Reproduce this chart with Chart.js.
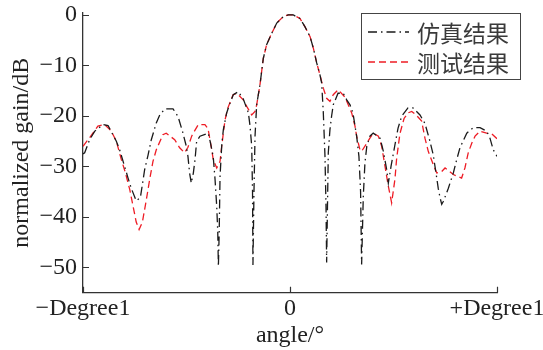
<!DOCTYPE html>
<html>
<head>
<meta charset="utf-8">
<script src="https://cdn.jsdelivr.net/npm/chart.js@4.4.1/dist/chart.umd.min.js"></script>
<style>
  html, body { margin: 0; padding: 0; background: #fff; }
  #wrap { width: 543px; height: 350px; position: relative; }
</style>
</head>
<body>
<div id="wrap"><canvas id="c"></canvas></div>
<script>
// angle as a fraction of Degree1, gain in dB
const angleSim = [
  -1.000, -0.992, -0.968, -0.943, -0.903, -0.879, -0.839, -0.823, -0.799, -0.783,
  -0.767, -0.743, -0.723, -0.702, -0.686, -0.670, -0.646, -0.629, -0.605, -0.565,
  -0.541, -0.517, -0.501, -0.493, -0.485, -0.477, -0.467, -0.459, -0.451, -0.435,
  -0.395, -0.386, -0.371, -0.362, -0.354, -0.349, -0.346, -0.342, -0.338, -0.330,
  -0.322, -0.306, -0.290, -0.274, -0.250, -0.226, -0.201, -0.193, -0.185, -0.181,
  -0.179, -0.174, -0.169, -0.161, -0.145, -0.137, -0.129, -0.113, -0.088, -0.064,
  -0.032, -0.008, 0.016, 0.048, 0.072, 0.097, 0.113, 0.129, 0.145, 0.153,
  0.161, 0.169, 0.174, 0.177, 0.181, 0.185, 0.193, 0.201, 0.209, 0.232,
  0.257, 0.274, 0.290, 0.304, 0.322, 0.333, 0.341, 0.346, 0.354, 0.362,
  0.371, 0.386, 0.402, 0.435, 0.451, 0.467, 0.475, 0.488, 0.507, 0.522,
  0.540, 0.570, 0.594, 0.628, 0.652, 0.676, 0.692, 0.709, 0.716, 0.725,
  0.733, 0.741, 0.765, 0.789, 0.805, 0.821, 0.854, 0.886, 0.918, 0.950,
  0.966, 0.982, 1.000
];
const gainSim = [
  -27.5, -27.3, -24.7, -23.0, -21.7, -21.9, -25.0, -26.7, -30.0, -32.2,
  -34.3, -36.8, -36.2, -30.6, -27.8, -24.7, -21.4, -19.8, -18.6, -18.6,
  -20.1, -23.4, -26.0, -28.0, -31.3, -33.3, -31.3, -28.7, -25.0, -24.0,
  -23.4, -25.0, -28.0, -32.6, -37.9, -43.0, -49.8, -43.0, -32.0, -26.0,
  -22.7, -19.4, -17.5, -15.8, -15.2, -16.6, -19.4, -22.0, -26.0, -35.0,
  -49.5, -35.0, -24.0, -17.8, -13.8, -11.2, -8.6, -5.9, -3.6, -1.6,
  -0.3, 0.0, 0.0, -0.7, -2.3, -4.3, -6.6, -9.5, -11.9, -13.5,
  -19.4, -28.0, -38.0, -49.0, -38.0, -27.3, -22.7, -20.0, -17.8, -15.5,
  -15.5, -16.8, -17.8, -19.4, -24.0, -28.0, -35.0, -49.4, -36.0, -29.3,
  -26.0, -24.0, -23.4, -24.4, -27.0, -30.6, -33.3, -30.0, -25.7, -22.4,
  -20.0, -18.4, -18.4, -19.8, -21.5, -25.0, -27.7, -32.3, -34.3, -36.2,
  -37.5, -36.9, -34.3, -31.3, -28.7, -26.3, -23.4, -22.3, -22.3, -23.0,
  -24.4, -26.7, -28.0
];

const angleMeas = [
  -1.000, -0.968, -0.928, -0.895, -0.863, -0.839, -0.815, -0.797, -0.774, -0.758,
  -0.743, -0.729, -0.713, -0.694, -0.678, -0.662, -0.646, -0.614, -0.598, -0.557,
  -0.533, -0.509, -0.493, -0.475, -0.467, -0.443, -0.411, -0.396, -0.378, -0.371,
  -0.354, -0.338, -0.330, -0.314, -0.300, -0.275, -0.257, -0.226, -0.209, -0.185,
  -0.169, -0.161, -0.145, -0.137, -0.129, -0.113, -0.088, -0.064, -0.032, -0.008,
  0.016, 0.048, 0.072, 0.097, 0.113, 0.129, 0.145, 0.161, 0.177, 0.193,
  0.209, 0.233, 0.266, 0.298, 0.314, 0.322, 0.338, 0.346, 0.371, 0.386,
  0.402, 0.427, 0.443, 0.459, 0.475, 0.491, 0.507, 0.515, 0.531, 0.551,
  0.570, 0.588, 0.609, 0.636, 0.652, 0.668, 0.692, 0.709, 0.733, 0.749,
  0.789, 0.829, 0.845, 0.861, 0.878, 0.894, 0.918, 0.950, 0.974, 1.000
];
const gainMeas = [
  -26.0, -24.3, -22.0, -21.7, -23.0, -25.0, -28.6, -31.0, -34.6, -37.9,
  -41.0, -42.5, -41.0, -36.6, -32.6, -29.0, -26.7, -23.7, -23.4, -24.7,
  -26.3, -27.3, -26.2, -24.0, -23.4, -21.7, -21.7, -22.5, -26.7, -28.6,
  -30.3, -29.0, -26.0, -20.8, -18.4, -15.8, -15.5, -16.8, -18.1, -19.8,
  -19.1, -17.8, -13.8, -11.2, -8.6, -5.9, -3.6, -1.6, -0.3, 0.0,
  0.0, -0.7, -2.3, -4.3, -6.6, -9.5, -11.9, -14.5, -16.5, -17.1,
  -15.8, -14.8, -16.3, -19.4, -22.0, -24.0, -26.7, -27.0, -25.4, -24.4,
  -23.4, -24.0, -26.0, -30.0, -33.9, -37.2, -32.5, -28.5, -23.5, -20.5,
  -19.4, -19.1, -19.8, -21.0, -24.4, -27.0, -29.6, -31.3, -31.0, -30.3,
  -31.6, -32.3, -30.3, -27.3, -25.4, -24.0, -23.0, -23.4, -23.5, -24.5
];

const seriesNames = ["仿真结果", "测试结果"];
const xTicks = [-1, 0, 1];
const xTickLabels = ["\u2212Degree1", "0", "+Degree1"];
const yTicks = [-50, -40, -30, -20, -10, 0];

const SERIF = "'Liberation Serif', 'Times New Roman', serif";
const CJK = "'Noto Sans CJK SC', 'Noto Sans', sans-serif";
const AXIS = "#333";

function pts(xs, ys) {
  return xs.map((x, i) => ({ x, y: ys[i] }));
}

// stop label overflow from shrinking the plot area
function noEdgePad(s) {
  s.paddingLeft = 0;
  s.paddingRight = 0;
  s.paddingTop = 0;
  s.paddingBottom = 0;
}

// inward tick marks + boxed legend
const decor = {
  id: "decor",
  afterDraw(chart) {
    const { ctx, chartArea, scales } = chart;
    ctx.save();
    ctx.strokeStyle = AXIS;
    ctx.lineWidth = 1.2;
    ctx.beginPath();
    for (const v of yTicks) {
      const y = Math.round(scales.y.getPixelForValue(v)) + 0.5;
      ctx.moveTo(chartArea.left, y);
      ctx.lineTo(chartArea.left + 6, y);
    }
    for (const v of xTicks) {
      const x = Math.round(scales.x.getPixelForValue(v)) + 0.5;
      ctx.moveTo(x, chartArea.bottom);
      ctx.lineTo(x, chartArea.bottom - 6);
    }
    ctx.stroke();

    // legend
    const bx = 361.5, by = 13.5, bw = 159, bh = 66;
    ctx.fillStyle = "#fff";
    ctx.fillRect(bx, by, bw, bh);
    ctx.strokeStyle = "#444";
    ctx.lineWidth = 1;
    ctx.strokeRect(bx, by, bw, bh);
    const rows = [32, 62];
    chart.data.datasets.forEach((ds, i) => {
      ctx.strokeStyle = ds.borderColor;
      ctx.lineWidth = ds.borderWidth;
      ctx.setLineDash(ds.borderDash);
      ctx.beginPath();
      ctx.moveTo(368, rows[i]);
      ctx.lineTo(409, rows[i]);
      ctx.stroke();
      ctx.setLineDash([]);
      ctx.fillStyle = "#3a3a3a";
      ctx.font = "23px " + CJK;
      ctx.textAlign = "left";
      ctx.textBaseline = "middle";
      ctx.fillText(ds.label, 417, rows[i] + 1);
    });
    ctx.restore();
  }
};

new Chart(document.getElementById("c"), {
  type: "line",
  data: {
    datasets: [
      {
        label: seriesNames[0],
        data: pts(angleSim, gainSim),
        borderColor: "#1a1a1a",
        borderWidth: 1.3,
        borderDash: [9, 4, 1.5, 4],
        pointRadius: 0,
        tension: 0,
        fill: false
      },
      {
        label: seriesNames[1],
        data: pts(angleMeas, gainMeas),
        borderColor: "#ee1c25",
        borderWidth: 1.3,
        borderDash: [7, 4],
        pointRadius: 0,
        tension: 0,
        fill: false
      }
    ]
  },
  options: {
    responsive: true,
    maintainAspectRatio: false,
    animation: false,
    layout: { padding: { top: 12.7, right: 46, bottom: 0, left: 0 } },
    plugins: { legend: { display: false }, tooltip: { enabled: false } },
    scales: {
      x: {
        type: "linear",
        min: -1,
        max: 1,
        afterBuildTicks: (s) => { s.ticks = xTicks.map(v => ({ value: v })); },
        afterFit: (s) => { s.height = 57.3; noEdgePad(s); },
        grid: { display: false, drawTicks: false },
        border: { display: true, color: AXIS, width: 1.3 },
        ticks: {
          padding: 2,
          maxRotation: 0,
          color: "#222",
          font: { family: SERIF, size: 24 },
          callback: (v) => xTickLabels[xTicks.indexOf(v)]
        },
        title: {
          display: true,
          text: "angle/°",
          color: "#222",
          font: { family: SERIF, size: 24 },
          padding: { top: 0, bottom: 0 }
        }
      },
      y: {
        min: -55,
        max: 0.45,
        afterBuildTicks: (s) => { s.ticks = yTicks.map(v => ({ value: v })); },
        afterFit: (s) => { s.width = 83; noEdgePad(s); },
        grid: { display: false, drawTicks: false },
        border: { display: true, color: AXIS, width: 1.3 },
        ticks: {
          padding: 6,
          color: "#222",
          font: { family: SERIF, size: 24 },
          callback: (v) => (v < 0 ? "\u2212" + Math.abs(v) : String(v))
        },
        title: {
          display: true,
          text: "normalized gain/dB",
          color: "#222",
          font: { family: SERIF, size: 24 },
          padding: { top: 7, bottom: 0 }
        }
      }
    }
  },
  plugins: [decor]
});
</script>
</body>
</html>
